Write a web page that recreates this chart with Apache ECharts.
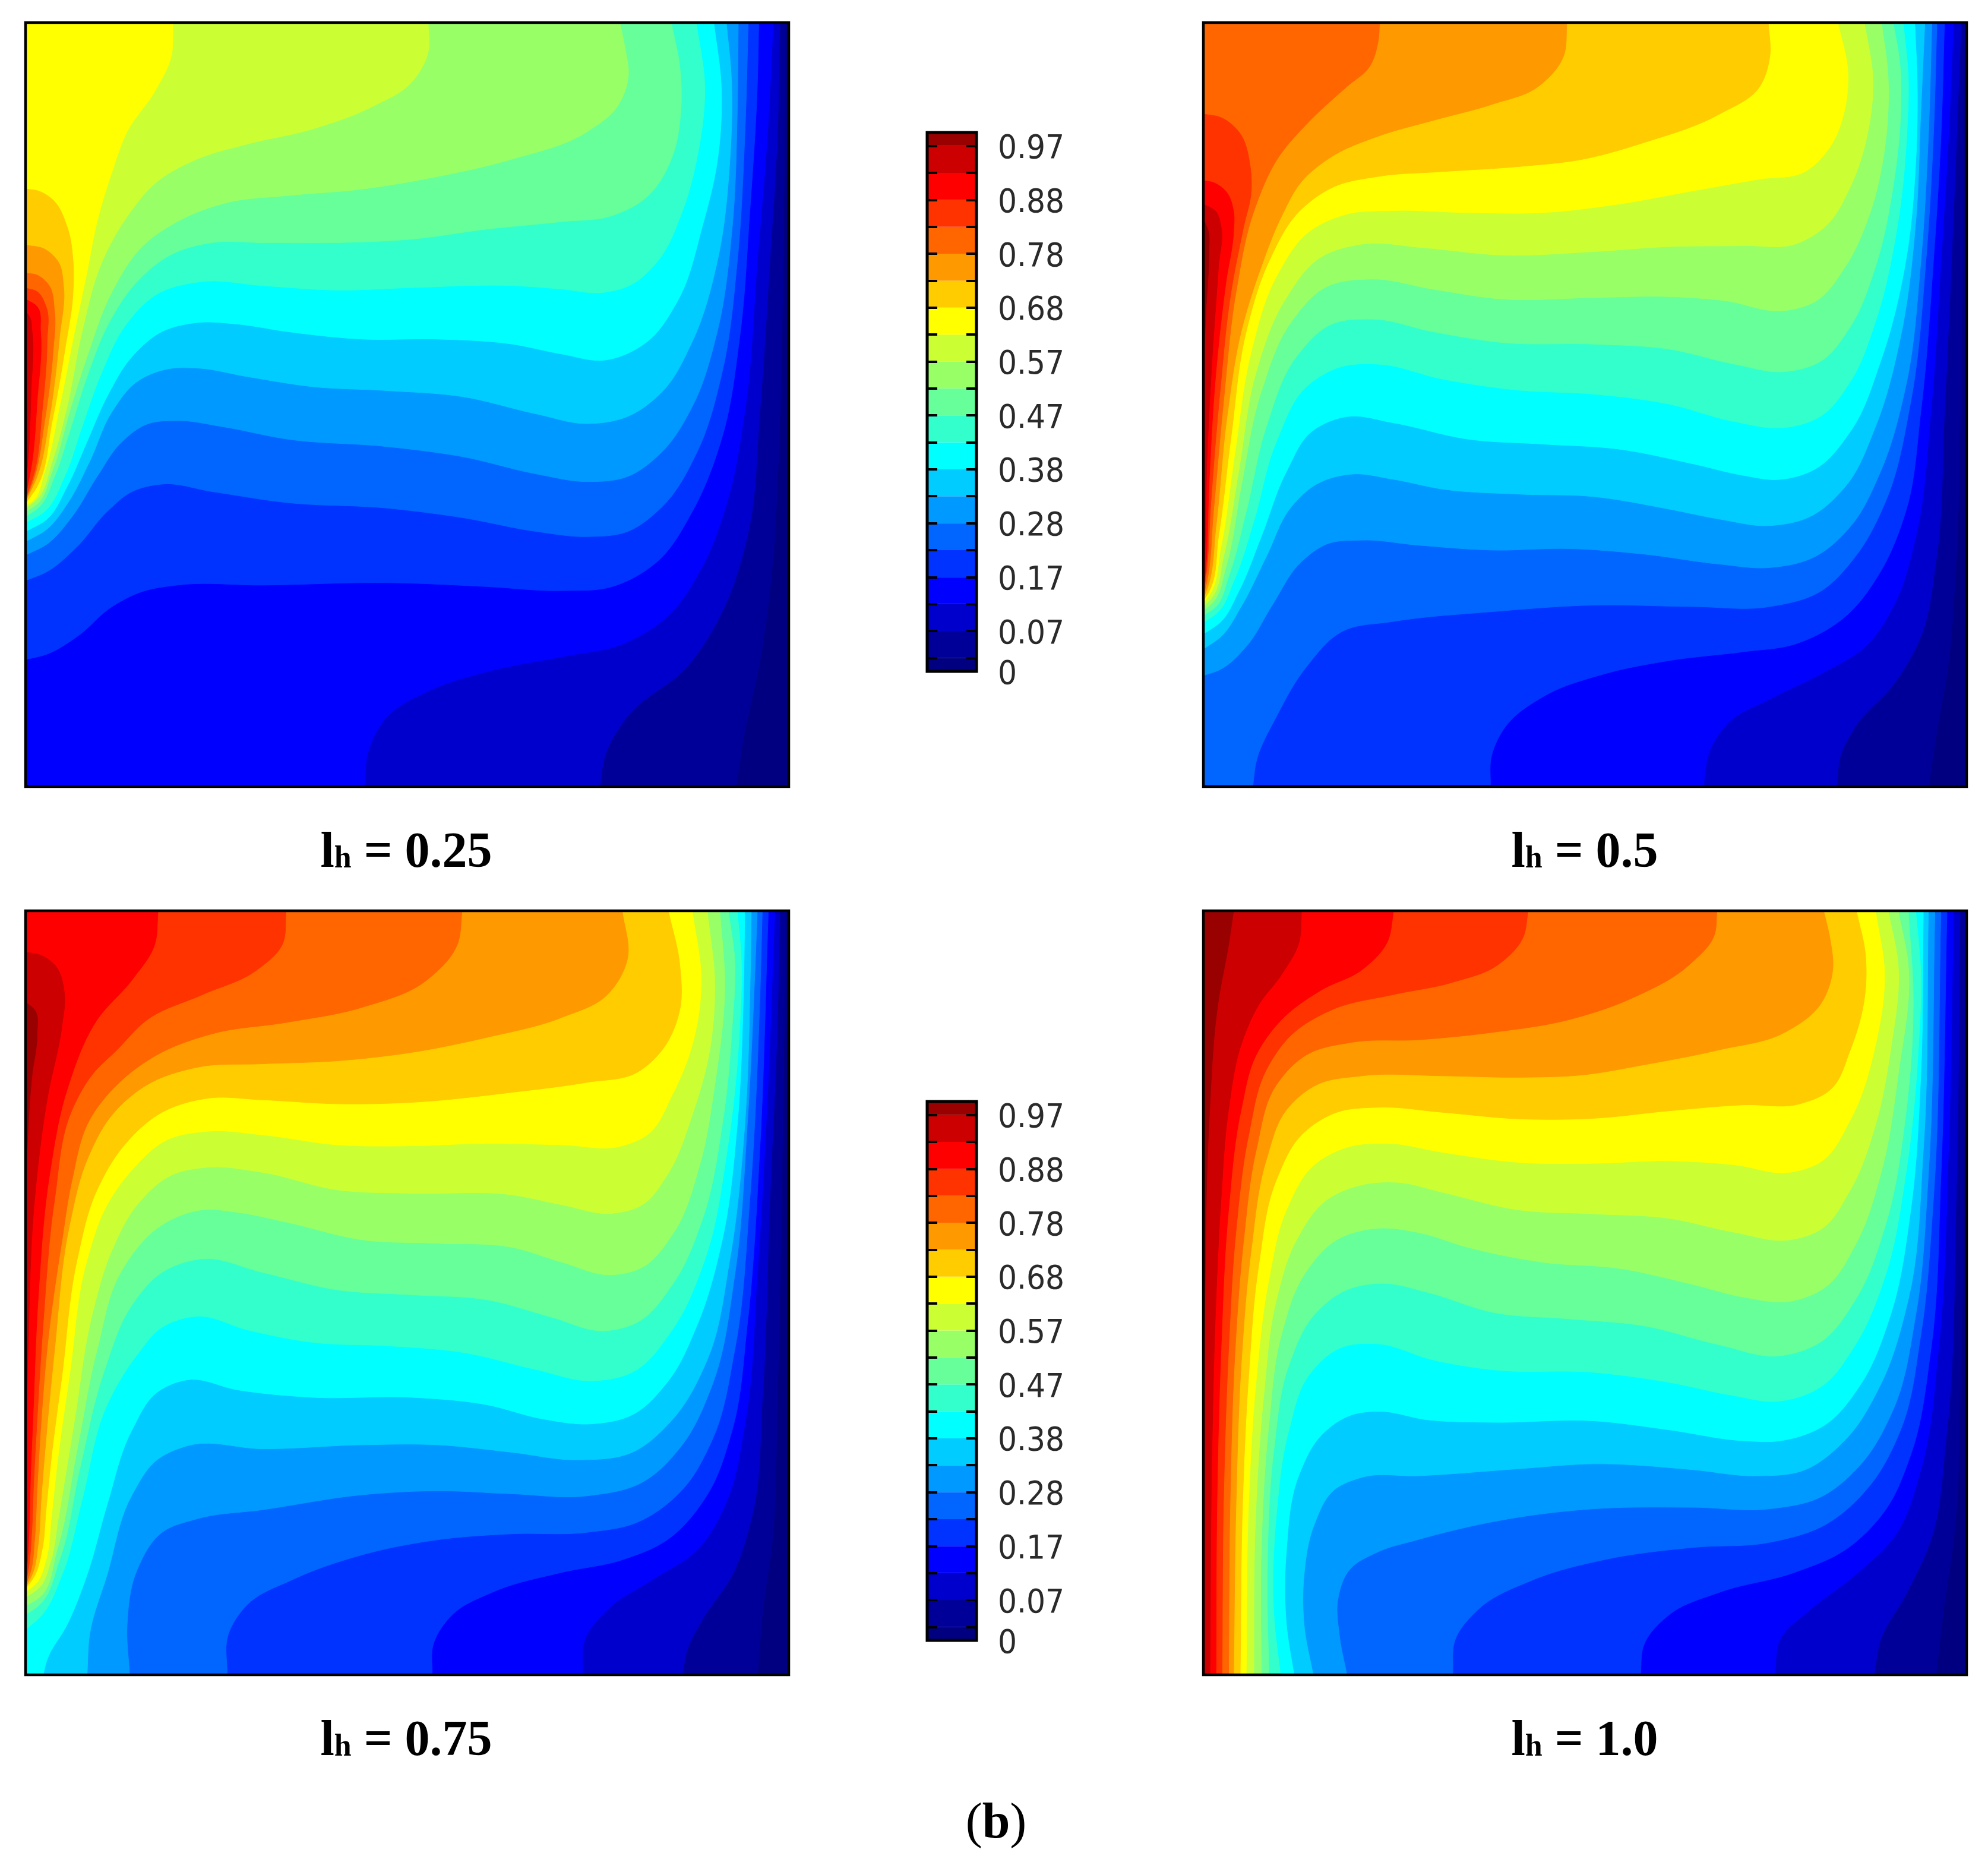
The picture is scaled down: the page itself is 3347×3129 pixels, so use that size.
<!DOCTYPE html>
<html><head><meta charset="utf-8">
<style>html,body{margin:0;padding:0;background:#fff}#c{width:3347px;height:3129px}</style>
<script src="https://cdn.jsdelivr.net/npm/echarts@6/dist/echarts.min.js"></script>
</head><body><div id="c"></div>
<script>
// band colours, lowest (0-0.025) to highest (0.975-1)
const bandColors = ['#000080','#000099','#0000cc','#0000ff','#0033ff','#0066ff','#0099ff','#00ccff','#00ffff','#33ffcc','#66ff99','#99ff66','#ccff33','#ffff00','#ffcc00','#ff9900','#ff6600','#ff3300','#ff0000','#cc0000','#990000'];
const bandEdges = [0,0.025,0.075,0.125,0.175,0.225,0.275,0.325,0.375,0.425,0.475,0.525,0.575,0.625,0.675,0.725,0.775,0.825,0.875,0.925,0.975,1];
const tickValues = [0.025,0.075,0.125,0.175,0.225,0.275,0.325,0.375,0.425,0.475,0.525,0.575,0.625,0.675,0.725,0.775,0.825,0.875,0.925,0.975];
const labelValues = [0,0.075,0.175,0.275,0.375,0.475,0.575,0.675,0.775,0.875,0.975];
const labelTexts = ['0','0.07','0.17','0.28','0.38','0.47','0.57','0.68','0.78','0.88','0.97'];
const panelNames = ['0.25','0.5','0.75','1.0'];

// Isotherm traces, in each panel's reading units.
// Entry k bounds the region hotter than bandEdges[k+1] (the hot side is up and to the left).
const domainWide = [27,1553];
const domainNarrow = [25,1541];
const domainY = [22,1550];

const contours025 = [
[[1447,1550],[1465,1440],[1495,1300],[1518,1130],[1532,900],[1540,600],[1546,22]],
[[1175,1550],[1185,1490],[1230,1410],[1350,1310],[1420,1200],[1470,1050],[1495,800],[1515,500],[1530,250],[1535,22]],
[[705,1550],[712,1480],[750,1410],[830,1360],[950,1320],[1100,1290],[1220,1265],[1310,1210],[1380,1110],[1430,980],[1465,800],[1490,500],[1510,250],[1522,22]],
[[27,1296],[70,1285],[130,1250],[200,1190],[260,1160],[330,1147],[500,1147],[750,1142],[950,1150],[1100,1158],[1200,1150],[1290,1100],[1360,1000],[1420,850],[1455,650],[1475,400],[1490,150],[1493,22]],
[[27,1138],[70,1120],[130,1070],[190,1000],[240,960],[300,945],[400,960],[550,982],[750,993],[900,1012],[1050,1040],[1150,1050],[1230,1040],[1300,990],[1370,880],[1420,720],[1450,500],[1465,250],[1472,22]],
[[27,1087],[70,1065],[120,1010],[170,930],[220,860],[270,825],[330,818],[420,830],[550,855],[750,870],[900,890],[1050,925],[1150,940],[1230,930],[1300,880],[1360,790],[1410,640],[1440,430],[1450,200],[1452,22]],
[[27,1060],[70,1035],[110,985],[155,900],[200,800],[250,740],[310,715],[370,713],[470,730],[600,750],[750,758],[900,770],[1050,805],[1150,824],[1230,810],[1300,760],[1360,660],[1410,500],[1435,300],[1438,130],[1428,22]],
[[27,1040],[70,1015],[110,950],[150,860],[190,770],[240,690],[300,640],[370,622],[450,625],[550,640],[700,655],[850,655],[1000,665],[1100,685],[1185,697],[1270,660],[1330,580],[1380,430],[1410,300],[1418,150],[1403,22]],
[[27,1022],[65,1000],[105,930],[140,830],[180,720],[225,630],[290,565],[380,540],[500,548],[650,557],[800,552],[1000,548],[1100,555],[1180,562],[1240,545],[1290,500],[1340,400],[1370,290],[1385,150],[1368,22]],
[[27,1010],[55,990],[85,930],[115,840],[150,730],[195,620],[250,540],[320,485],[400,462],[500,462],[650,462],[800,455],[950,435],[1100,420],[1200,408],[1270,370],[1320,290],[1337,200],[1335,110],[1318,22]],
[[27,1000],[50,985],[80,920],[115,800],[150,690],[200,560],[260,470],[340,415],[430,382],[550,368],[700,355],[850,330],[1000,295],[1150,240],[1210,190],[1232,130],[1225,70],[1215,22]],
[[27,993],[50,975],[80,900],[110,790],[140,640],[180,500],[230,410],[290,340],[370,295],[470,265],[600,235],[720,190],[800,140],[832,80],[832,22]],
[[27,988],[40,980],[65,920],[95,790],[125,640],[150,520],[170,420],[200,320],[230,240],[285,160],[318,90],[322,22]],
[[27,984],[50,950],[80,820],[105,680],[122,560],[122,500],[110,430],[80,375],[50,358],[27,355]],
[[27,980],[50,930],[75,810],[95,650],[103,550],[92,500],[65,475],[27,467]],
[[27,978],[45,930],[65,820],[82,680],[85,600],[72,545],[50,527],[27,523]],
[[27,975],[45,920],[60,800],[70,660],[68,590],[50,560],[27,553]],
[[27,970],[40,900],[50,780],[57,640],[50,590],[27,575]],
[[27,950],[33,880],[38,760],[40,640],[35,610],[27,600]]
];

const contours05 = [
[[1465,1550],[1480,1450],[1505,1300],[1520,1100],[1530,700],[1537,22]],
[[1283,1550],[1290,1490],[1320,1430],[1400,1340],[1450,1250],[1480,1100],[1497,800],[1515,400],[1530,22]],
[[1018,1550],[1030,1480],[1070,1420],[1150,1375],[1260,1320],[1340,1270],[1400,1180],[1440,1050],[1470,800],[1490,500],[1505,250],[1515,22]],
[[595,1550],[597,1490],[625,1430],[700,1370],[820,1325],[950,1298],[1100,1280],[1200,1265],[1300,1210],[1370,1120],[1420,1000],[1450,800],[1475,500],[1490,250],[1497,22]],
[[123,1550],[130,1500],[170,1410],[230,1310],[300,1240],[400,1220],[600,1200],[800,1187],[1000,1190],[1150,1190],[1250,1160],[1320,1090],[1380,980],[1430,780],[1460,500],[1475,250],[1482,22]],
[[25,1328],[60,1315],[110,1270],[160,1190],[220,1100],[270,1065],[340,1057],[450,1067],[600,1077],[750,1074],[900,1085],[1050,1105],[1150,1112],[1240,1090],[1310,1030],[1370,920],[1420,750],[1450,500],[1465,250],[1472,22]],
[[25,1275],[60,1250],[100,1190],[150,1090],[200,990],[250,945],[320,925],[400,935],[500,955],[650,965],[800,970],[950,995],[1050,1015],[1150,1028],[1230,1010],[1300,950],[1360,830],[1410,650],[1440,420],[1450,200],[1458,22]],
[[25,1245],[60,1220],[95,1160],[140,1050],[190,920],[240,840],[310,810],[400,822],[550,855],[700,865],[850,875],[1000,905],[1100,928],[1165,936],[1240,915],[1310,840],[1370,700],[1420,500],[1440,300],[1443,150],[1438,22]],
[[25,1222],[55,1200],[85,1140],[125,1020],[170,860],[230,750],[300,710],[370,705],[500,735],[650,757],[800,765],[950,785],[1080,820],[1180,832],[1250,810],[1310,740],[1360,620],[1400,450],[1422,250],[1425,130],[1415,22]],
[[25,1208],[50,1190],[75,1130],[110,1000],[150,830],[210,690],[280,625],[360,615],[480,640],[620,662],[800,665],[950,675],[1080,705],[1180,720],[1250,700],[1310,630],[1360,510],[1395,350],[1410,200],[1408,100],[1395,22]],
[[25,1198],[45,1180],[70,1110],[100,950],[140,760],[200,620],[270,550],[360,535],[480,555],[620,575],[800,572],[950,570],[1060,578],[1180,598],[1240,580],[1300,510],[1350,400],[1380,260],[1385,130],[1372,22]],
[[25,1190],[42,1172],[65,1090],[95,920],[130,720],[185,580],[260,490],[340,465],[460,472],[620,487],[800,480],[950,470],[1100,468],[1200,465],[1260,430],[1310,350],[1345,240],[1355,140],[1338,22]],
[[25,1183],[38,1165],[60,1070],[88,880],[120,680],[170,530],[235,440],[310,405],[400,398],[550,402],[700,402],[850,385],[1000,358],[1130,335],[1220,320],[1270,270],[1300,190],[1305,120],[1285,22]],
[[25,1178],[36,1160],[55,1050],[80,850],[110,640],[155,500],[215,400],[285,350],[370,330],[500,320],[650,310],[780,295],[900,262],[1050,205],[1130,150],[1150,90],[1147,22]],
[[25,1174],[34,1150],[50,1030],[72,810],[100,640],[140,510],[180,410],[220,340],[280,290],[370,250],[480,218],[600,185],[690,150],[740,90],[747,22]],
[[25,1170],[32,1140],[45,1000],[65,780],[90,560],[125,400],[175,290],[230,225],[310,150],[355,110],[372,60],[375,22]],
[[25,1165],[30,1130],[40,980],[58,760],[80,560],[105,430],[120,360],[118,310],[95,240],[60,212],[25,205]],
[[25,1160],[30,1110],[36,950],[50,720],[70,540],[85,440],[85,400],[70,360],[45,342],[25,338]],
[[25,1150],[28,1080],[32,900],[42,700],[55,510],[60,430],[50,400],[25,385]],
[[25,720],[30,600],[36,480],[35,440],[25,415]]
];

const contours075 = [
[[1490,1550],[1500,1430],[1520,1280],[1530,1000],[1540,500],[1547,22]],
[[1340,1550],[1350,1500],[1380,1440],[1440,1350],[1480,1230],[1500,1000],[1515,600],[1530,250],[1535,22]],
[[1140,1550],[1145,1480],[1190,1420],[1280,1360],[1370,1300],[1430,1200],[1465,1050],[1490,750],[1510,400],[1525,22]],
[[840,1550],[842,1490],[880,1430],[960,1385],[1100,1345],[1220,1320],[1310,1280],[1390,1190],[1440,1060],[1470,850],[1495,500],[1512,22]],
[[430,1550],[432,1470],[470,1410],[560,1360],[700,1310],[850,1280],[1000,1268],[1150,1265],[1250,1245],[1340,1180],[1400,1080],[1445,900],[1475,600],[1495,200],[1500,22]],
[[235,1550],[230,1450],[250,1340],[300,1265],[370,1238],[500,1220],[700,1190],[850,1182],[1000,1188],[1150,1192],[1260,1165],[1340,1090],[1400,970],[1445,750],[1470,450],[1485,150],[1490,22]],
[[150,1550],[155,1470],[190,1350],[240,1190],[290,1120],[350,1092],[500,1098],[700,1090],[850,1090],[1000,1105],[1130,1120],[1240,1105],[1320,1040],[1390,920],[1435,720],[1465,450],[1476,150],[1478,22]],
[[62,1550],[70,1520],[110,1450],[150,1350],[190,1210],[240,1060],[290,985],[350,960],[450,980],[600,995],[800,995],[950,1010],[1060,1038],[1160,1048],[1240,1030],[1310,965],[1370,850],[1420,680],[1450,450],[1462,200],[1465,22]],
[[27,1460],[60,1430],[100,1350],[140,1200],[190,1010],[250,910],[300,855],[370,833],[470,860],[600,885],[750,892],[900,905],[1050,940],[1160,962],[1240,945],[1320,860],[1385,720],[1430,500],[1455,250],[1458,120],[1450,22]],
[[27,1430],[55,1410],[95,1320],[135,1140],[185,940],[240,810],[300,745],[380,718],[500,745],[650,780],[800,790],[950,800],[1080,835],[1185,862],[1250,845],[1320,770],[1380,640],[1420,450],[1440,250],[1445,120],[1432,22]],
[[27,1412],[55,1395],[90,1300],[130,1100],[170,900],[220,740],[300,650],[380,620],[450,625],[550,645],[700,680],[850,687],[1000,695],[1100,725],[1200,750],[1260,735],[1320,670],[1375,530],[1405,370],[1425,170],[1415,22]],
[[27,1395],[55,1375],[78,1320],[92,1240],[125,1040],[160,830],[200,700],[250,610],[320,550],[390,535],[500,545],[650,580],[800,587],[1000,590],[1100,610],[1200,627],[1260,610],[1310,550],[1360,430],[1395,300],[1405,170],[1390,22]],
[[27,1385],[50,1365],[68,1320],[78,1240],[90,1130],[115,950],[150,720],[190,610],[240,540],[310,480],[390,463],[500,470],[650,490],[800,492],[950,487],[1100,490],[1220,492],[1270,470],[1320,390],[1360,290],[1378,170],[1360,22]],
[[27,1378],[45,1352],[60,1300],[68,1220],[78,1120],[100,950],[130,720],[170,580],[225,490],[300,425],[390,397],[500,400],[650,408],[800,405],[1000,385],[1150,365],[1250,345],[1300,300],[1335,220],[1335,130],[1312,22]],
[[27,1375],[42,1345],[52,1290],[58,1200],[66,1100],[85,900],[115,650],[150,520],[200,430],[270,370],[370,335],[500,328],[650,322],[800,305],[950,275],[1100,235],[1190,190],[1230,120],[1220,22]],
[[27,1372],[38,1340],[45,1280],[50,1180],[57,1060],[72,880],[100,680],[120,560],[155,440],[215,365],[290,310],[400,268],[550,245],[700,215],[830,160],[890,90],[900,22]],
[[27,1370],[34,1330],[39,1270],[43,1170],[50,1040],[62,850],[85,600],[120,420],[160,350],[210,300],[270,240],[380,190],[490,140],[540,90],[548,22]],
[[27,1365],[31,1320],[34,1260],[37,1150],[42,1030],[52,800],[75,550],[110,380],[170,240],[240,160],[285,90],[292,22]],
[[27,1150],[32,900],[45,600],[70,400],[100,250],[105,190],[85,130],[55,110],[27,105]],
[[27,800],[30,500],[40,350],[50,270],[45,220],[27,205]]
];

const contours10 = [
[[1480,1550],[1495,1420],[1515,1280],[1530,900],[1538,22]],
[[1357,1550],[1370,1480],[1420,1390],[1470,1280],[1500,1080],[1520,600],[1528,22]],
[[1160,1550],[1170,1480],[1230,1420],[1320,1350],[1400,1270],[1450,1140],[1485,900],[1505,500],[1515,22]],
[[893,1550],[900,1490],[950,1430],[1050,1385],[1200,1345],[1300,1300],[1380,1220],[1430,1110],[1470,900],[1490,550],[1502,22]],
[[520,1550],[525,1480],[570,1420],[680,1360],[820,1320],[1000,1295],[1150,1285],[1260,1250],[1350,1170],[1410,1060],[1450,870],[1475,600],[1490,22]],
[[310,1550],[295,1470],[292,1400],[315,1340],[370,1305],[450,1280],[650,1235],[800,1218],[1000,1215],[1150,1218],[1250,1195],[1330,1130],[1395,1020],[1440,830],[1465,550],[1478,22]],
[[243,1550],[225,1450],[225,1350],[245,1250],[285,1180],[340,1155],[450,1152],[650,1138],[800,1128],[1000,1140],[1120,1152],[1220,1140],[1300,1080],[1370,970],[1425,800],[1455,500],[1465,22]],
[[205,1550],[190,1450],[190,1300],[215,1150],[260,1070],[320,1030],[370,1023],[470,1040],[600,1045],[800,1042],[950,1060],[1100,1082],[1170,1082],[1260,1050],[1330,970],[1390,830],[1430,620],[1450,350],[1455,22]],
[[178,1550],[165,1430],[170,1230],[195,1060],[235,950],[300,895],[370,888],[480,920],[600,940],[800,945],[950,965],[1080,992],[1165,1003],[1250,975],[1320,890],[1380,750],[1420,550],[1445,300],[1450,150],[1440,22]],
[[155,1550],[152,1350],[165,1100],[195,930],[245,830],[310,780],[380,767],[470,785],[600,825],[750,838],[900,852],[1050,890],[1170,912],[1250,885],[1320,800],[1380,650],[1420,430],[1435,200],[1425,22]],
[[140,1550],[140,1300],[155,1050],[180,870],[225,750],[290,680],[370,657],[450,665],[550,695],[700,725],[850,737],[1000,770],[1100,795],[1190,803],[1260,775],[1320,690],[1370,550],[1405,350],[1425,130],[1405,22]],
[[125,1550],[128,1250],[145,990],[170,800],[210,680],[270,600],[340,570],[410,565],[500,585],[650,620],[800,628],[950,637],[1080,665],[1190,680],[1250,660],[1310,580],[1360,450],[1390,300],[1405,130],[1385,22]],
[[110,1550],[115,1200],[130,960],[155,760],[190,620],[245,530],[310,495],[390,487],[500,505],[650,525],[800,527],[950,522],[1080,530],[1190,545],[1250,525],[1310,440],[1360,290],[1378,150],[1360,22]],
[[98,1550],[103,1200],[115,950],[135,730],[170,560],[220,470],[290,425],[370,415],[500,425],[650,438],[800,437],[950,422],[1100,410],[1210,408],[1270,380],[1310,300],[1340,180],[1340,110],[1322,22]],
[[85,1550],[90,1200],[100,930],[120,700],[150,520],[190,420],[250,370],[340,352],[500,352],[650,355],[780,350],[900,330],[1050,300],[1180,265],[1250,210],[1275,140],[1270,80],[1257,22]],
[[75,1550],[78,1200],[88,900],[105,680],[130,500],[170,370],[230,310],[320,285],[450,280],[600,265],[750,240],[880,195],[990,130],[1040,70],[1045,22]],
[[62,1550],[65,1200],[75,900],[90,660],[115,470],[150,340],[200,270],[280,220],[400,190],[520,165],[610,130],[660,75],[670,22]],
[[50,1550],[52,1200],[60,900],[75,620],[100,420],[130,310],[180,240],[260,180],[340,140],[390,85],[403,22]],
[[38,1550],[42,1100],[50,800],[60,600],[75,420],[100,290],[135,210],[180,150],[215,85],[220,22]],
[[25,1200],[28,800],[36,450],[55,200],[75,90],[85,22]]
];

const panelContours = [contours025, contours05, contours075, contours10];
const panelDomainsX = [domainWide, domainNarrow, domainWide, domainNarrow];

// smooth a traced isotherm (chord-length Catmull-Rom, sampled for drawing in pixels)
function smoothTrace(p){
  const out=[p[0]], n=p.length, tan=[];
  const dist=(a,b)=>Math.hypot(a[0]-b[0],a[1]-b[1])||1;
  for(let i=0;i<n;i++){
    if(i===0||i===n-1){
      const a=p[Math.max(i-1,0)], b=p[Math.min(i+1,n-1)], d=dist(a,b);
      tan.push([(b[0]-a[0])/d,(b[1]-a[1])/d]);
    } else {
      const d0=dist(p[i-1],p[i]), d1=dist(p[i],p[i+1]);
      const v=[0,1].map(j=>((p[i][j]-p[i-1][j])/d0*d1+(p[i+1][j]-p[i][j])/d1*d0)/(d0+d1));
      const m=Math.hypot(v[0],v[1])||1;
      tan.push([v[0]/m,v[1]/m]);
    }
  }
  for(let i=0;i<n-1;i++){
    const L=dist(p[i],p[i+1])/3;
    const c1=[p[i][0]+tan[i][0]*L,p[i][1]+tan[i][1]*L];
    const c2=[p[i+1][0]-tan[i+1][0]*L,p[i+1][1]-tan[i+1][1]*L];
    for(let k=1;k<=10;k++){
      const t=k/10,u=1-t;
      out.push([0,1].map(j=>u*u*u*p[i][j]+3*u*u*t*c1[j]+3*u*t*t*c2[j]+t*t*t*p[i+1][j]));
    }
  }
  return out;
}

const panelBoxes=[{left:43,top:38},{left:2026,top:38},{left:43,top:1533},{left:2026,top:1533}];
const PW=1285, PH=1286;
const grids=[], xAxes=[], yAxes=[], series=[], titles=[];
const titleBase=[{x:684,y:1459},{x:2668,y:1459},{x:684,y:2954},{x:2668,y:2954}];

panelContours.forEach((cs,pi)=>{
  const [x0,x1]=panelDomainsX[pi], [y0,y1]=domainY;
  grids.push({left:panelBoxes[pi].left,top:panelBoxes[pi].top,width:PW,height:PH,show:true,backgroundColor:bandColors[0],borderWidth:0});
  xAxes.push({gridIndex:pi,type:'value',min:x0,max:x1,show:false});
  yAxes.push({gridIndex:pi,type:'value',min:y0,max:y1,inverse:true,show:false});
  series.push({
    type:'custom',xAxisIndex:pi,yAxisIndex:pi,clip:true,z:2,silent:true,
    coordinateSystem:'cartesian2d',
    data:cs.map((c,i)=>[c[0][0],c[0][1],i]),
    encode:{x:0,y:1},
    renderItem:(params,api)=>{
      const i=api.value(2), c=cs[i];
      const pts=smoothTrace(c);
      const first=c[0], last=c[c.length-1];
      if(last[1]===y0) pts.push([x0,y0]);
      if(first[1]===y1) pts.push([x0,y1]);
      return {type:'polygon',shape:{points:pts.map(q=>api.coord(q))},style:{fill:bandColors[i+1],stroke:bandColors[i+1],lineWidth:1}};
    }
  });
  series.push({
    type:'custom',xAxisIndex:pi,yAxisIndex:pi,clip:false,z:5,silent:true,
    coordinateSystem:'cartesian2d',data:[[x0,y0,x1,y1]],encode:{x:[0,2],y:[1,3]},
    renderItem:(params,api)=>{
      const a=api.coord([api.value(0),api.value(1)]), b=api.coord([api.value(2),api.value(3)]);
      return {type:'rect',shape:{x:a[0],y:a[1],width:b[0]-a[0],height:b[1]-a[1]},style:{fill:'none',stroke:'#000',lineWidth:4.5}};
    }
  });
  titles.push({
    text:'{a|l}{b|h}{a| = '+panelNames[pi]+'}',
    left:titleBase[pi].x, top:titleBase[pi].y-74,
    textAlign:'center',padding:0,
    textStyle:{rich:{
      a:{fontFamily:'Liberation Serif',fontWeight:'bold',fontSize:84,color:'#000',lineHeight:94,verticalAlign:'bottom'},
      b:{fontFamily:'Liberation Serif',fontWeight:'bold',fontSize:52,color:'#000',lineHeight:94,verticalAlign:'bottom',padding:[0,0,6,0]}
    }}
  });
});

titles.push({
  text:'{r|(}{a|b}{r|)}',left:1677,top:3090-66,textAlign:'center',padding:0,
  textStyle:{rich:{
    a:{fontFamily:'Liberation Serif',fontWeight:'bold',fontSize:84,color:'#000',lineHeight:94},
    r:{fontFamily:'Liberation Serif',fontWeight:'normal',fontSize:84,color:'#000',lineHeight:94}
  }}
});

// colour bars
[{top:223},{top:1854}].forEach((b,k)=>{
  const g=grids.length;
  grids.push({left:1561,top:b.top,width:83,height:907,show:false});
  xAxes.push({gridIndex:g,type:'value',min:0,max:1,show:false});
  const yl=yAxes.length;
  const tickCommon={show:true,inside:true,length:17,lineStyle:{color:'#000',width:4},customValues:tickValues};
  yAxes.push({gridIndex:g,type:'value',min:0,max:1,position:'left',z:6,
    axisLine:{show:false},splitLine:{show:false},axisLabel:{show:false},axisTick:tickCommon});
  yAxes.push({gridIndex:g,type:'value',min:0,max:1,position:'right',z:6,
    axisLine:{show:false},splitLine:{show:false},axisLabel:{show:false},axisTick:tickCommon});
  series.push({
    type:'custom',xAxisIndex:g,yAxisIndex:yl,clip:false,z:2,silent:true,coordinateSystem:'cartesian2d',
    data:bandColors.map((c,i)=>[0,bandEdges[i],1,bandEdges[i+1],i]),encode:{x:[0,2],y:[1,3]},
    renderItem:(params,api)=>{
      const a=api.coord([api.value(0),api.value(3)]), d=api.coord([api.value(2),api.value(1)]);
      return {type:'rect',shape:{x:a[0],y:a[1],width:d[0]-a[0],height:d[1]-a[1]},style:{fill:bandColors[api.value(4)]}};
    }
  });
  series.push({
    type:'custom',xAxisIndex:g,yAxisIndex:yl,clip:false,z:5,silent:true,coordinateSystem:'cartesian2d',
    data:[[0,0,1,1]],encode:{x:[0,2],y:[1,3]},
    renderItem:(params,api)=>{
      const a=api.coord([api.value(0),api.value(3)]), d=api.coord([api.value(2),api.value(1)]);
      return {type:'rect',shape:{x:a[0],y:a[1],width:d[0]-a[0],height:d[1]-a[1]},style:{fill:'none',stroke:'#000',lineWidth:5}};
    }
  });
  // tick labels sit a little below their ticks, as in the reference: own grid, labels only
  const gl=grids.length;
  grids.push({left:1561,top:b.top+6,width:83,height:907,show:false});
  xAxes.push({gridIndex:gl,type:'value',min:0,max:1,show:false});
  yAxes.push({gridIndex:gl,type:'value',min:0,max:1,position:'right',
    axisLine:{show:false},splitLine:{show:false},axisTick:{show:false},
    axisLabel:{show:true,margin:36,customValues:labelValues,
      formatter:v=>labelTexts[labelValues.findIndex(q=>Math.abs(q-v)<1e-6)],
      fontFamily:'DejaVu Sans Condensed, DejaVu Sans',fontSize:56,color:'#2a2a2a',hideOverlap:false}});
});

const chart=echarts.init(document.getElementById('c'),null,{renderer:'canvas',width:3347,height:3129});
chart.setOption({backgroundColor:'#fff',animation:false,title:titles,grid:grids,xAxis:xAxes,yAxis:yAxes,series});
</script></body></html>
